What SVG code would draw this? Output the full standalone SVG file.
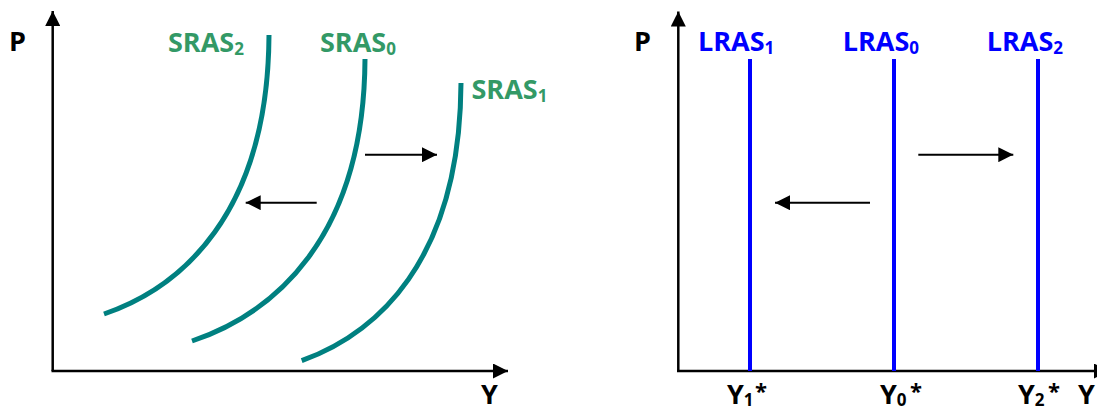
<svg xmlns="http://www.w3.org/2000/svg" width="1097" height="412" viewBox="0 0 1097 412">
<style>
text{font-family:"Open Sans",Lato,"Liberation Sans",sans-serif;font-weight:bold;font-size:27px}
.ax{fill:#000}
.sr{fill:#339966}
.lr{fill:#0000ff}
.sub{font-size:17px}
.ast{font-size:22px}
.curve{fill:none;stroke:#008080;stroke-width:5}
.lras{fill:none;stroke:#0000ff;stroke-width:4}
.axis{fill:none;stroke:#000;stroke-width:2.5}
.shift{fill:none;stroke:#000;stroke-width:2}
</style>
<defs>
<marker id="ah" markerWidth="15" markerHeight="15" refX="15" refY="7.5" orient="auto" markerUnits="userSpaceOnUse" viewBox="0 0 15 15">
<path d="M0,0 L15,7.5 L0,15 Z" fill="#000"/>
</marker>
</defs>
<rect width="1097" height="412" fill="#fff"/>
<g id="connectors">
<line class="axis" x1="52.7" y1="371" x2="52.7" y2="11" marker-end="url(#ah)"/>
<line class="axis" x1="51.5" y1="371" x2="508" y2="371" marker-end="url(#ah)"/>
<line class="axis" x1="678.3" y1="371" x2="678.3" y2="11.5" marker-end="url(#ah)"/>
<line class="axis" x1="677" y1="371" x2="1109" y2="371" marker-end="url(#ah)"/>
<line class="shift" x1="365" y1="154.7" x2="437" y2="154.7" marker-end="url(#ah)"/>
<line class="shift" x1="316.7" y1="202.7" x2="245.7" y2="202.7" marker-end="url(#ah)"/>
<line class="shift" x1="918.3" y1="154.7" x2="1013.3" y2="154.7" marker-end="url(#ah)"/>
<line class="shift" x1="870" y1="202.7" x2="775" y2="202.7" marker-end="url(#ah)"/>
</g>
<g id="axis-labels">
<text class="ax" x="9" y="51">P</text>
<text class="ax" x="481" y="404">Y</text>
<text class="ax" x="634" y="51">P</text>
<text class="ax" x="1078" y="404">Y</text>
</g>
<g id="sras2">
<path class="curve" d="M104,314 C180,288 268,215 269,35"/>
<text class="sr" x="168" y="51.7">SRAS<tspan class="sub" dy="3">2</tspan></text>
</g>
<g id="sras0">
<path class="curve" d="M192,341 C272,314 364,240 365,59"/>
<text class="sr" x="320" y="51.7">SRAS<tspan class="sub" dy="3">0</tspan></text>
</g>
<g id="sras1">
<path class="curve" d="M301.7,360.7 C375,334 460,263 461,83"/>
<text class="sr" x="471.5" y="99">SRAS<tspan class="sub" dy="3">1</tspan></text>
</g>
<g id="lras1">
<line class="lras" x1="750" y1="59" x2="750" y2="371"/>
<text class="lr" x="698" y="51">LRAS<tspan class="sub" dy="3">1</tspan></text>
<text class="ax" x="727" y="404">Y<tspan class="sub" dy="2">1</tspan></text>
<text class="ax ast" x="755" y="399">*</text>
</g>
<g id="lras0">
<line class="lras" x1="894" y1="59" x2="894" y2="371"/>
<text class="lr" x="842.7" y="51">LRAS<tspan class="sub" dy="3">0</tspan></text>
<text class="ax" x="880" y="404">Y<tspan class="sub" dy="2">0</tspan></text>
<text class="ax ast" x="910" y="399">*</text>
</g>
<g id="lras2">
<line class="lras" x1="1038" y1="59" x2="1038" y2="371"/>
<text class="lr" x="986.7" y="51">LRAS<tspan class="sub" dy="3">2</tspan></text>
<text class="ax" x="1018" y="404">Y<tspan class="sub" dy="2">2</tspan></text>
<text class="ax ast" x="1048" y="399">*</text>
</g>
</svg>
